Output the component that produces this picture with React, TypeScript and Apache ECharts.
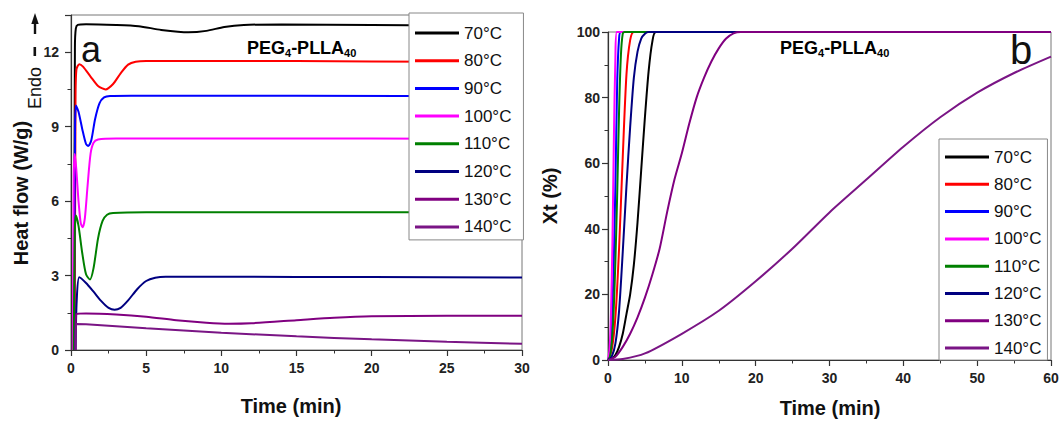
import React, { useEffect, useRef } from 'react';
import * as echarts from 'echarts';

const tempLabels = ['70°C', '80°C', '90°C', '100°C', '110°C', '120°C', '130°C', '140°C'];
const lineColors = ['#000000', '#ff0000', '#0000ff', '#ff00ff', '#008000', '#000080', '#800080', '#7a1585'];

// Panel a: heat flow (W/g) vs time (min)
const hf70 = [[0.2, 0], [0.26, 12.2], [0.32, 12.95], [0.45, 13.1], [1, 13.13], [3, 13.1], [4.5, 13.05], [6, 12.9], [7.8, 12.8], [9, 12.86], [10.2, 13.02], [11.5, 13.1], [14, 13.12], [20, 13.1], [25, 13.08], [30, 13.05]];
const hf80 = [[0.25, 0], [0.3, 10], [0.36, 11.3], [0.55, 11.52], [0.8, 11.42], [1.3, 11.02], [1.8, 10.64], [2.3, 10.5], [2.8, 10.72], [3.3, 11.15], [3.8, 11.5], [4.3, 11.62], [5, 11.65], [10, 11.65], [20, 11.63], [30, 11.6]];
const hf90 = [[0.2, 0], [0.27, 9.0], [0.33, 9.85], [0.5, 9.6], [0.75, 8.9], [1.0, 8.3], [1.15, 8.22], [1.35, 8.45], [1.6, 9.3], [1.9, 9.95], [2.2, 10.18], [2.6, 10.24], [4, 10.25], [15, 10.25], [30, 10.22]];
const hf100 = [[0.12, 0], [0.18, 7.0], [0.25, 7.9], [0.35, 7.3], [0.5, 6.0], [0.65, 5.1], [0.78, 4.95], [0.92, 5.3], [1.1, 6.6], [1.3, 7.9], [1.5, 8.35], [1.8, 8.48], [3, 8.52], [20, 8.52], [30, 8.5]];
const hf110 = [[0.18, 0], [0.25, 4.8], [0.33, 5.42], [0.5, 5.0], [0.75, 3.9], [1.0, 3.05], [1.26, 2.84], [1.5, 3.3], [1.8, 4.5], [2.1, 5.2], [2.4, 5.45], [2.8, 5.52], [5, 5.55], [30, 5.55]];
const hf120 = [[0.3, 0], [0.38, 2.0], [0.55, 2.93], [1.0, 2.7], [1.5, 2.35], [2.0, 1.98], [2.5, 1.7], [2.9, 1.62], [3.3, 1.7], [3.8, 2.0], [4.4, 2.45], [5.0, 2.78], [5.6, 2.91], [6.3, 2.95], [10, 2.95], [20, 2.94], [30, 2.92]];
const hf130 = [[0.3, 0], [0.35, 1.45], [1, 1.47], [3, 1.43], [5, 1.34], [7, 1.2], [9, 1.1], [10.5, 1.06], [12, 1.08], [15, 1.2], [17.5, 1.3], [20, 1.36], [25, 1.38], [30, 1.38]];
const hf140 = [[0.3, 0], [0.35, 1.05], [1, 1.04], [5, 0.88], [10, 0.7], [15, 0.55], [20, 0.43], [25, 0.33], [30, 0.25]];

// Panel b: relative crystallinity Xt (%) vs time (min)
const xt70 = [[0, 0], [0.5, 0.3], [1, 1.5], [1.5, 4], [2, 8], [2.5, 14], [3, 20], [3.5, 29], [4, 42], [4.5, 58], [5, 74], [5.5, 88], [6, 97], [6.5, 100], [60, 100]];
const xt80 = [[0, 0], [0.5, 3], [1, 13], [1.5, 34], [2, 62], [2.5, 87], [3, 97.5], [3.5, 100], [60, 100]];
const xt90 = [[0, 0], [0.25, 2], [0.5, 10], [0.75, 27], [1, 53], [1.25, 85], [1.5, 98], [1.75, 100], [60, 100]];
const xt100 = [[0, 0], [0.2, 3], [0.4, 14], [0.6, 36], [0.8, 68], [1, 92], [1.2, 100], [60, 100]];
const xt110 = [[0, 0], [0.25, 1], [0.5, 5], [0.75, 14], [1, 30], [1.25, 51], [1.5, 76], [1.75, 93], [2, 99.5], [2.25, 100], [60, 100]];
const xt120 = [[0, 0], [0.5, 1], [1, 5], [1.5, 15], [2, 33], [2.5, 53], [3, 71], [3.5, 86], [4, 94], [4.5, 98], [5, 99.5], [5.5, 100], [60, 100]];
const xt130 = [[0, 0], [1, 1], [2, 4], [3, 8], [4, 13], [5, 19], [6, 26], [7, 34], [8, 45], [9, 55], [10, 63], [11, 72], [12, 80], [13, 86], [14, 91], [15, 95], [16, 98], [17, 99.6], [18, 100], [60, 100]];
const xt140 = [[0, 0], [2, 0.3], [5, 2], [10, 8], [15, 15], [20, 24], [25, 34], [30, 45], [35, 55], [40, 65], [45, 74], [50, 81.5], [55, 87.5], [60, 92.5]];

const heatFlowSets = [hf70, hf80, hf90, hf100, hf110, hf120, hf130, hf140];
const xtSets = [xt70, xt80, xt90, xt100, xt110, xt120, xt130, xt140];

const FONT = '"Liberation Sans", Arial, Helvetica, sans-serif';

export default function App() {
  const ref = useRef<HTMLDivElement>(null);

  useEffect(() => {
    if (!ref.current) return;
    const chart = echarts.init(ref.current, null, { renderer: 'svg' });

    const axisCommon = {
      axisLine: { show: true, onZero: false, lineStyle: { color: '#333', width: 1.2 } },
      axisTick: { show: true, inside: false, length: 6, lineStyle: { color: '#333', width: 1.2 } },
      minorTick: { show: true, splitNumber: 2, length: 3.5, lineStyle: { color: '#333', width: 1 } },
      splitLine: { show: false },
      minorSplitLine: { show: false },
      axisLabel: { fontFamily: FONT, fontWeight: 'bold', fontSize: 14, color: '#222' },
    };

    const mk = (data: number[][], i: number, axis: number) => ({
      type: 'line',
      name: tempLabels[i],
      xAxisIndex: axis,
      yAxisIndex: axis,
      data,
      symbol: 'none',
      showSymbol: false,
      smooth: 0.25,
      clip: true,
      lineStyle: { width: 2, color: lineColors[i] },
      itemStyle: { color: lineColors[i] },
    });

    const legendCommon = {
      orient: 'vertical',
      icon: 'rect',
      itemWidth: 44,
      itemHeight: 3,
      borderColor: '#888',
      borderWidth: 1,
      backgroundColor: '#fff',
      selectedMode: false,
      textStyle: { fontFamily: FONT, fontSize: 17, color: '#111', lineHeight: 18 },
      data: tempLabels,
    };

    const centered = { x: 0, y: 0, align: 'center', verticalAlign: 'middle', textAlign: 'center', textVerticalAlign: 'middle', fill: '#111' };
    const pegRich = {
      m: { fontFamily: FONT, fontWeight: 'bold', fontSize: 18, color: '#111' },
      s: { fontFamily: FONT, fontWeight: 'bold', fontSize: 11, color: '#111', padding: [10, 0, 0, 0] },
    };

    const option = {
      animation: false,
      backgroundColor: '#fff',
      grid: [
        { left: 71, top: 15, width: 451, height: 335, show: true, borderColor: '#777', borderWidth: 1, backgroundColor: 'transparent' },
        { left: 608, top: 32, width: 443, height: 328, show: true, borderColor: '#777', borderWidth: 1, backgroundColor: 'transparent' },
      ],
      xAxis: [
        { ...axisCommon, type: 'value', gridIndex: 0, min: 0, max: 30, interval: 5, axisLabel: { ...axisCommon.axisLabel, margin: 11 } },
        { ...axisCommon, type: 'value', gridIndex: 1, min: 0, max: 60, interval: 10, axisLabel: { ...axisCommon.axisLabel, margin: 11 } },
      ],
      yAxis: [
        { ...axisCommon, type: 'value', gridIndex: 0, min: 0, max: 13.5, interval: 3, axisLabel: { ...axisCommon.axisLabel, margin: 12, showMaxLabel: false } },
        { ...axisCommon, type: 'value', gridIndex: 1, min: 0, max: 100, interval: 20, axisLabel: { ...axisCommon.axisLabel, margin: 8 } },
      ],
      legend: [
        { ...legendCommon, left: 409, top: 13, itemGap: 9.7, padding: [11, 12, 4, 6] },
        { ...legendCommon, left: 939, top: 139, itemGap: 9.3, padding: [9, 6, 3, 6] },
      ],
      series: [
        ...heatFlowSets.map((d, i) => mk(d, i, 0)),
        ...xtSets.map((d, i) => mk(d, i, 1)),
      ],
      graphic: [
        { type: 'text', x: 21, y: 193, rotation: Math.PI / 2, style: { ...centered, text: 'Heat flow (W/g)', font: `bold 20px ${FONT}` } },
        { type: 'text', x: 35, y: 88, rotation: Math.PI / 2, style: { ...centered, text: 'Endo', font: `18px ${FONT}` } },
        { type: 'rect', shape: { x: 33.5, y: 47, width: 2.6, height: 9 }, style: { fill: '#111' } },
        { type: 'line', shape: { x1: 35, y1: 34, x2: 35, y2: 21 }, style: { stroke: '#111', lineWidth: 2.4 } },
        { type: 'polygon', shape: { points: [[31.3, 24], [38.7, 24], [35, 13]] }, style: { fill: '#111' } },
        { type: 'text', x: 291, y: 406, style: { ...centered, text: 'Time (min)', font: `bold 20px ${FONT}` } },
        { type: 'text', x: 550, y: 196, rotation: Math.PI / 2, style: { ...centered, text: 'Xt (%)', font: `bold 20px ${FONT}` } },
        { type: 'text', x: 830, y: 408, style: { ...centered, text: 'Time (min)', font: `bold 20px ${FONT}` } },
        { type: 'text', x: 91, y: 49, style: { ...centered, text: 'a', font: `36px ${FONT}` } },
        { type: 'text', x: 1021, y: 50, style: { ...centered, text: 'b', font: `40px ${FONT}` } },
        { type: 'text', x: 247, y: 48, style: { x: 0, y: 0, align: 'left', verticalAlign: 'middle', textAlign: 'left', textVerticalAlign: 'middle', text: '{m|PEG}{s|4}{m|-PLLA}{s|40}', rich: pegRich } },
        { type: 'text', x: 780, y: 48, style: { x: 0, y: 0, align: 'left', verticalAlign: 'middle', textAlign: 'left', textVerticalAlign: 'middle', text: '{m|PEG}{s|4}{m|-PLLA}{s|40}', rich: pegRich } },
      ],
    };

    chart.setOption(option as any);
    return () => chart.dispose();
  }, []);

  return <div ref={ref} style={{ position: 'absolute', left: 0, top: 0, width: 1063, height: 423 }} />;
}
